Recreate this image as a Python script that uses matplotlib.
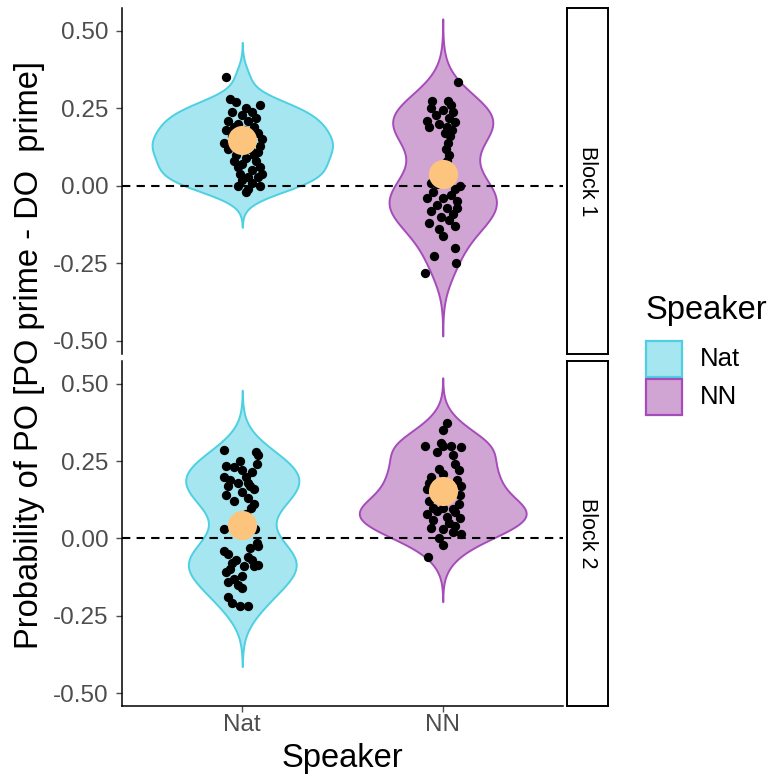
import numpy as np
import matplotlib
matplotlib.use("Agg")
import matplotlib.pyplot as plt
from matplotlib.patches import Rectangle

plt.rcParams['font.family'] = ['Liberation Sans', 'DejaVu Sans']

# categories / facets
speakers = ["Nat", "NN"]
blocks = ["Block 1", "Block 2"]

# per-participant values (y) and their horizontal jitter (x offset)
b1_nat_y = [0.35, 0.28, 0.26, 0.27, 0.25, 0.24, 0.24, 0.23, 0.22, 0.21, 0.21, 0.20, 0.19, 0.18, 0.18,
            0.17, 0.16, 0.15, 0.14, 0.13, 0.12, 0.12, 0.11, 0.10, 0.10, 0.09, 0.08, 0.08, 0.07, 0.06,
            0.06, 0.05, 0.04, 0.04, 0.03, 0.03, 0.02, 0.01, 0.00, 0.00, -0.01, -0.02, 0.15, 0.14, 0.13, 0.19]
b1_nat_x = [-0.08, -0.06, 0.09, -0.03, 0.02, -0.05, 0.05, 0.00, 0.07, -0.07, 0.03, -0.02, 0.06, -0.08, 0.01,
            0.08, -0.05, 0.10, -0.09, 0.09, -0.07, 0.04, 0.08, -0.03, 0.06, 0.02, -0.04, 0.07, 0.00, 0.09,
            -0.02, 0.05, 0.10, -0.01, 0.03, 0.08, 0.00, 0.05, -0.02, 0.09, 0.03, 0.02, -0.04, 0.04, -0.02, -0.04]

b1_nn_y = [0.335, 0.275, 0.275, 0.25, 0.245, 0.24, 0.23, 0.22, 0.21, 0.205, 0.20, 0.19, 0.18, 0.17, 0.16,
           0.14, 0.12, 0.10, 0.08, 0.06, 0.03, 0.01, 0.005, 0.0, -0.01, -0.02, -0.03, -0.04, -0.05, -0.06,
           -0.07, -0.08, -0.09, -0.10, -0.11, -0.12, -0.13, -0.14, -0.16, -0.20, -0.225, -0.25, -0.28,
           0.19, -0.07, -0.04, 0.26]
b1_nn_x = [0.075, -0.055, 0.025, -0.06, 0.0, 0.05, -0.035, 0.03, -0.08, 0.06, -0.02, 0.02, 0.045, 0.01, 0.035,
           0.025, 0.015, 0.03, 0.02, 0.01, 0.03, -0.06, -0.03, 0.085, 0.06, -0.05, 0.04, 0.0, 0.07, -0.03,
           0.02, -0.06, 0.05, -0.01, 0.03, -0.07, 0.06, -0.02, 0.0, 0.06, -0.045, 0.065, -0.09,
           -0.07, 0.07, -0.08, 0.04]

b2_nat_y = [0.285, 0.28, 0.27, 0.24, 0.235, 0.23, 0.22, 0.215, 0.20, 0.19, 0.18, 0.17, 0.16, 0.15, 0.14,
            0.13, 0.12, 0.11, 0.10, 0.08, 0.03, 0.03, -0.015, -0.025, -0.04, -0.05, -0.06, -0.07, -0.08,
            -0.085, -0.09, -0.10, -0.11, -0.12, -0.13, -0.14, -0.15, -0.16, -0.19, -0.21, -0.22, -0.22,
            0.25, -0.03, 0.17, 0.18, 0.20, -0.07, -0.09]
b2_nat_x = [-0.09, 0.07, 0.08, 0.075, -0.08, -0.04, 0.0, 0.05, -0.09, -0.06, 0.03, -0.07, 0.06, 0.0, -0.08,
            0.03, -0.04, 0.06, 0.045, 0.02, -0.09, 0.065, 0.075, 0.08, -0.09, -0.07, 0.03, 0.05, -0.05,
            0.08, 0.06, -0.06, -0.08, 0.0, -0.04, -0.07, -0.02, 0.0, -0.07, -0.05, -0.01, 0.03,
            -0.01, 0.04, 0.04, -0.02, 0.02, -0.03, 0.01]

b2_nn_y = [0.375, 0.35, 0.31, 0.30, 0.30, 0.30, 0.295, 0.27, 0.24, 0.225, 0.22, 0.21, 0.20, 0.19, 0.18,
           0.17, 0.16, 0.14, 0.12, 0.11, 0.10, 0.095, 0.09, 0.085, 0.08, 0.07, 0.065, 0.06, 0.05, 0.04,
           0.035, 0.03, 0.02, 0.015, 0.0, -0.02, -0.06, 0.10, 0.13, 0.28]
b2_nn_x = [0.02, 0.0, -0.01, -0.09, 0.0, 0.04, 0.09, 0.05, 0.06, -0.02, 0.08, 0.0, -0.06, 0.07, -0.07,
           0.09, -0.08, 0.085, -0.07, 0.08, -0.05, 0.05, -0.03, 0.06, -0.08, 0.02, 0.085, -0.05, 0.03, 0.06,
           -0.06, 0.0, 0.05, 0.09, -0.02, 0.0, -0.075, 0.0, 0.03, -0.03]

# condition means (large orange dots)
means_b1 = [0.148, 0.039]
means_b2 = [0.045, 0.152]

panel_data = [
    [(b1_nat_y, b1_nat_x), (b1_nn_y, b1_nn_x)],
    [(b2_nat_y, b2_nat_x), (b2_nn_y, b2_nn_x)],
]
panel_means = [means_b1, means_b2]

fills = ["#A6E6F0", "#D0A5D4"]
edges = ["#4DD0E1", "#A64CBA"]
mean_col = "#FDC47D"
tick_col = "#4D4D4D"


def nrd0(v):
    v = np.asarray(v)
    sd = v.std(ddof=1)
    iqr = np.subtract(*np.percentile(v, [75, 25])) / 1.34
    return 0.9 * min(sd, iqr) * len(v) ** -0.2


def kde(v):
    v = np.asarray(v)
    bw = nrd0(v)
    grid = np.linspace(v.min() - 3 * bw, v.max() + 3 * bw, 512)
    d = np.exp(-0.5 * ((grid[:, None] - v[None, :]) / bw) ** 2).sum(1)
    d /= len(v) * bw * np.sqrt(2 * np.pi)
    return grid, d


dens = [[kde(g[0]) for g in row] for row in panel_data]
dmax = max(d.max() for row in dens for _, d in row)

W, H = 770, 774
fig = plt.figure(figsize=(W / 100, H / 100), dpi=100)

panel_px = [(8, 354), (361, 706)]
for r, (top, bot) in enumerate(panel_px):
    ax = fig.add_axes([122 / W, 1 - bot / H, 441 / W, (bot - top) / H])
    for i in range(2):
        grid, d = dens[r][i]
        hw = 0.45 * d / dmax
        ax.fill_betweenx(grid, i + 1 - hw, i + 1 + hw, facecolor=fills[i],
                         edgecolor=edges[i], lw=1.4, zorder=1)
    ax.axhline(0, color="black", ls=(0, (4, 3)), lw=1.5, zorder=2)
    for i in range(2):
        ys, xs = panel_data[r][i]
        ax.scatter(np.array(xs) + i + 1, ys, s=45, color="black", lw=0, zorder=3)
        ax.plot(i + 1, panel_means[r][i], "o", ms=21, color=mean_col, mec="none", zorder=4)
    ax.set_xlim(0.4, 2.6)
    ax.set_ylim(-0.542, 0.574)
    ax.set_yticks([-0.5, -0.25, 0, 0.25, 0.5])
    ax.set_yticklabels(["-0.50", "-0.25", "0.00", "0.25", "0.50"])
    for s in ["top", "right"]:
        ax.spines[s].set_visible(False)
    ax.spines["left"].set_linewidth(1.1)
    ax.tick_params(axis="y", labelsize=17.5, colors=tick_col, length=4, width=1, pad=5.5)
    if r == 0:
        ax.spines["bottom"].set_visible(False)
        ax.set_xticks([])
    else:
        ax.spines["bottom"].set_linewidth(1.1)
        ax.set_xticks([1, 2])
        ax.set_xticklabels(speakers)
        ax.tick_params(axis="x", labelsize=17.5, colors=tick_col, length=4, width=1, pad=2)
        ax.set_xlabel("Speaker", fontsize=23.5, labelpad=5)

    sx = fig.add_axes([567 / W, 1 - bot / H, 41 / W, (bot - top) / H])
    sx.set_xticks([])
    sx.set_yticks([])
    for s in sx.spines.values():
        s.set_linewidth(1.4)
    sx.text(0.5, 0.5, blocks[r], rotation=270, ha="center", va="center",
            fontsize=15.5, transform=sx.transAxes)

fig.text(30 / W, 1 - 355 / H, "Probability of PO [PO prime - DO  prime]", rotation=90,
         ha="center", va="center", fontsize=23.5)

# legend (ggplot style: title above, square keys)
fig.text(646 / W, 1 - 311 / H, "Speaker", ha="left", va="center", fontsize=23.5)
for i, lab in enumerate(speakers):
    y0 = 341 + 38 * i
    fig.patches.append(Rectangle((646 / W, 1 - (y0 + 36) / H), 36 / W, 36 / H,
                                 transform=fig.transFigure, facecolor=fills[i],
                                 edgecolor=edges[i], lw=1.6))
    fig.text(700 / W, 1 - (y0 + 18) / H, lab, ha="left", va="center", fontsize=18.5)

fig.savefig("out.png", dpi=100)
